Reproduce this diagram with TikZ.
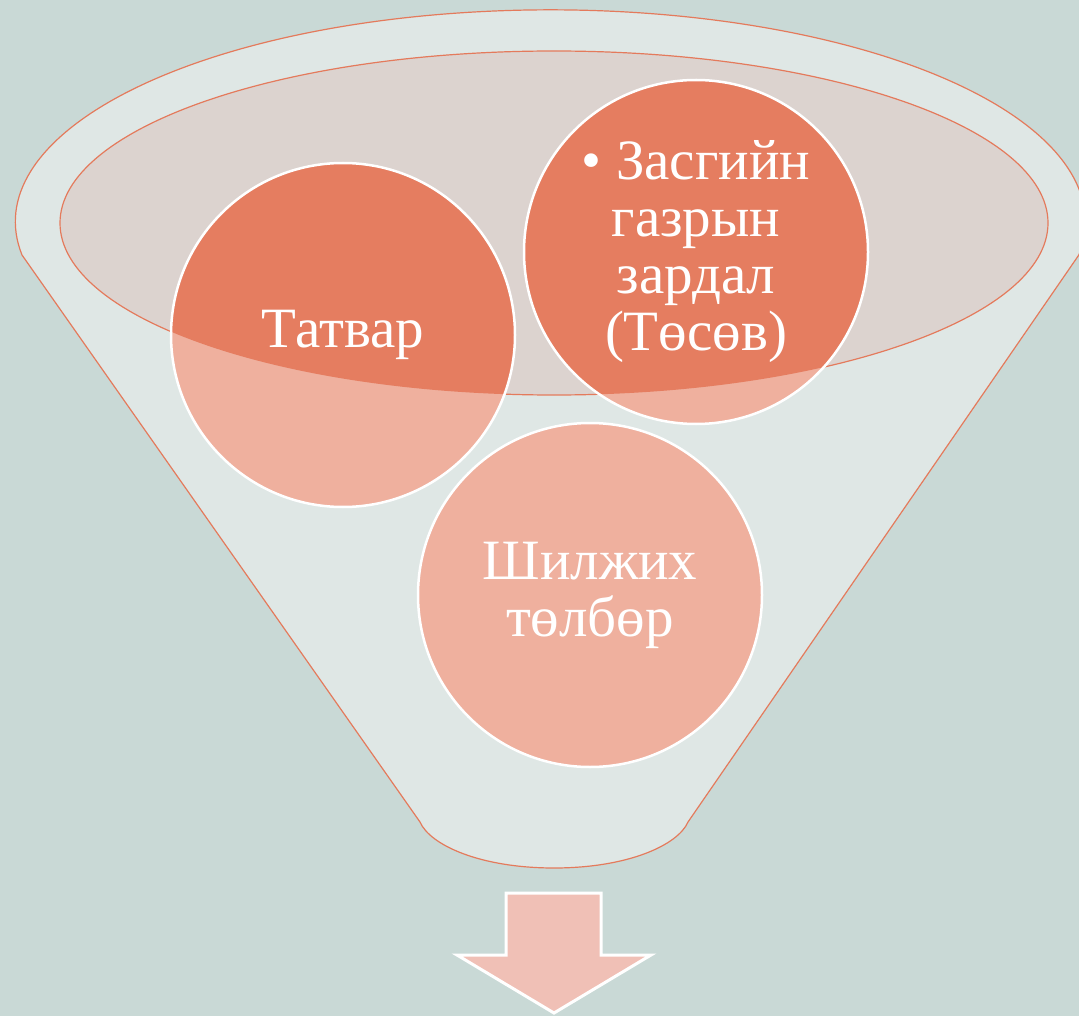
\documentclass[tikz,border=0pt]{standalone}
\usepackage{fontspec}
\setmainfont{Liberation Serif}
\definecolor{bgcol}{HTML}{C9D9D6}
\definecolor{funnelcol}{HTML}{DFE7E5}
\definecolor{bowlcol}{HTML}{DCD3CF}
\definecolor{rimcol}{HTML}{E47A5C}
\definecolor{deepcol}{HTML}{E57D60}
\definecolor{softcol}{HTML}{EFB09E}
\definecolor{arrowcol}{HTML}{F0C0B6}

\begin{document}
\begin{tikzpicture}[x=1pt, y=-1pt,
    outline/.style={draw=rimcol, line width=1.2pt},
    coin/.style={circle, draw=white, line width=2.5pt, minimum size=344pt,
        inner sep=0pt, align=center, text=white,
        font=\fontsize{57}{57}\selectfont}]
        % Background and frame
        \fill[bgcol] (0,0) rectangle (1079,1016);
        \useasboundingbox (0,0) rectangle (1079,1016);

        % Funnel body and bowl
        \path[fill=funnelcol, outline] (22,255)
            arc[start angle=171, end angle=369, x radius=535, y radius=212]
            -- (688,822) .. controls (678,845) and (628,868) .. (554,868)
            .. controls (480,868) and (430,845) .. (420,822) -- cycle;
        \path[fill=bowlcol, outline] (554,223) ellipse[x radius=494, y radius=172];

        % Circle centres
        \coordinate (tax)      at (343,335);
        \coordinate (budget)   at (696,252);
        \coordinate (transfer) at (590,595);

        \foreach \c in {tax, budget, transfer}
            \fill[softcol] (\c) circle[radius=172];
        \begin{scope}
            \clip (554,223) ellipse[x radius=494, y radius=172];
            \foreach \c in {tax, budget, transfer}
                \fill[deepcol] (\c) circle[radius=172];
        \end{scope}

        % Add the labelled circles
        \node[coin] (taxc)      at (tax)      {Татвар};
        \node[coin] (budgetc)   at (budget)   {• Засгийн\\газрын\\зардал\\(Төсөв)};
        \node[coin] (transferc) at (transfer) {Шилжих\\төлбөр};

        % Output arrow
        \filldraw[fill=arrowcol, draw=white, line width=3pt, line join=miter]
            (506,893) -- (601,893) -- (601,955) -- (651,955) -- (554,1013)
            -- (457,955) -- (506,955) -- cycle;
    \end{tikzpicture}
\end{document}
